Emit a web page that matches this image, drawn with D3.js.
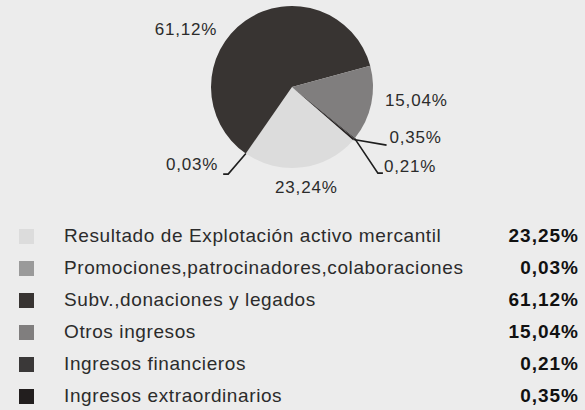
<!DOCTYPE html>
<html lang="es">
<head>
<meta charset="utf-8">
<style>
  html, body { margin: 0; padding: 0; background: #ececec; }
  svg { display: block; }
  text { font-family: "Liberation Sans", Arial, sans-serif; fill: #2b2b2b; }
</style>
</head>
<body>
<div id="chart"></div>
<script src="https://d3js.org/d3.v7.min.js"></script>
<script>
// data
var categories = ["Resultado de Explotación activo mercantil",
                  "Promociones,patrocinadores,colaboraciones",
                  "Subv.,donaciones y legados",
                  "Otros ingresos",
                  "Ingresos financieros",
                  "Ingresos extraordinarios"];
var pieValues = [23.24, 0.03, 61.12, 15.04, 0.21, 0.35];
var legendValues = [23.25, 0.03, 61.12, 15.04, 0.21, 0.35];
var colors = ["#dcdcdc", "#9a9a9a", "#383432", "#807e7e", "#3a3838", "#221e1e"];

var W = 585, H = 410;
var cx = 292, cy = 87, R = 81;

var svg = d3.select("#chart").append("svg")
    .attr("width", W).attr("height", H);

svg.append("rect").attr("width", W).attr("height", H).attr("fill", "#ececec");

var fmt = function (v) { return d3.format(".2f")(v).replace(".", ",") + "%"; };

// pie: clockwise, first slice starts at ~131deg
var start = 131 * Math.PI / 180;
var pie = d3.pie().sort(null).value(function (d) { return d; })
    .startAngle(start).endAngle(start + 2 * Math.PI);
var arcs = pie(pieValues);
var arc = d3.arc().innerRadius(0).outerRadius(R);

var g = svg.append("g").attr("transform", "translate(" + cx + "," + cy + ")");

g.selectAll("path.slice")
  .data(arcs)
  .enter().append("path")
  .attr("class", "slice")
  .attr("d", arc)
  .attr("fill", function (d, i) { return colors[i]; });

function polar(a, r) { return [r * Math.sin(a), -r * Math.cos(a)]; }
var deg = Math.PI / 180;

// label layout (angle offset in degrees, radius); small slices get a leader line
var place = [
  { da: -1, r: 101, anchor: "middle", dy: 6 },
  { elbow: { da: 1.5, r: 108 }, run: -5, anchor: "end", gap: -5, dy: -4 },
  { da: -26, r: 121, anchor: "middle", dy: 6 },
  { da: -6, r: 125, anchor: "middle", dy: 6 },
  { elbow: { da: 5.7, r: 121.6 }, run: 5, anchor: "start", gap: 1, dy: -1 },
  { elbow: { da: -8.8, r: 111 }, run: 0, anchor: "start", gap: 3, dy: -2 }
];

arcs.forEach(function (d, i) {
  var mid = (d.startAngle + d.endAngle) / 2;
  var p = place[i];
  var lx, ly;
  if (p.elbow) {
    var p0 = polar(mid, R);
    var p1 = polar(mid + p.elbow.da * deg, p.elbow.r);
    var p2 = [p1[0] + p.run, p1[1]];
    g.append("polyline")
      .attr("points", [p0, p1, p2].map(function (q) { return q.join(","); }).join(" "))
      .attr("fill", "none").attr("stroke", "#1e1e1e").attr("stroke-width", 1.6);
    lx = p2[0] + p.gap; ly = p2[1] + p.dy;
  } else {
    var q = polar(mid + p.da * deg, p.r);
    lx = q[0]; ly = q[1] + p.dy;
  }
  g.append("text")
    .attr("x", lx).attr("y", ly)
    .attr("text-anchor", p.anchor)
    .style("font-size", "17px")
    .style("letter-spacing", "0.8px")
    .text(fmt(pieValues[i]));
});

// legend
var rowY = d3.scalePoint().domain(d3.range(categories.length)).range([236, 396]);

var rows = svg.selectAll("g.row")
  .data(categories)
  .enter().append("g")
  .attr("class", "row")
  .attr("transform", function (d, i) { return "translate(0," + rowY(i) + ")"; });

rows.append("rect")
  .attr("x", 19).attr("y", -7).attr("width", 15).attr("height", 15)
  .attr("fill", function (d, i) { return colors[i]; });

rows.append("text")
  .attr("x", 64).attr("y", 6)
  .style("font-size", "19px")
  .style("letter-spacing", "0.6px")
  .text(function (d) { return d; });

rows.append("text")
  .attr("x", 579).attr("y", 6)
  .attr("text-anchor", "end")
  .style("font-size", "19px")
  .style("font-weight", "bold")
  .style("letter-spacing", "1px")
  .style("fill", "#111")
  .text(function (d, i) { return fmt(legendValues[i]); });
</script>
</body>
</html>
